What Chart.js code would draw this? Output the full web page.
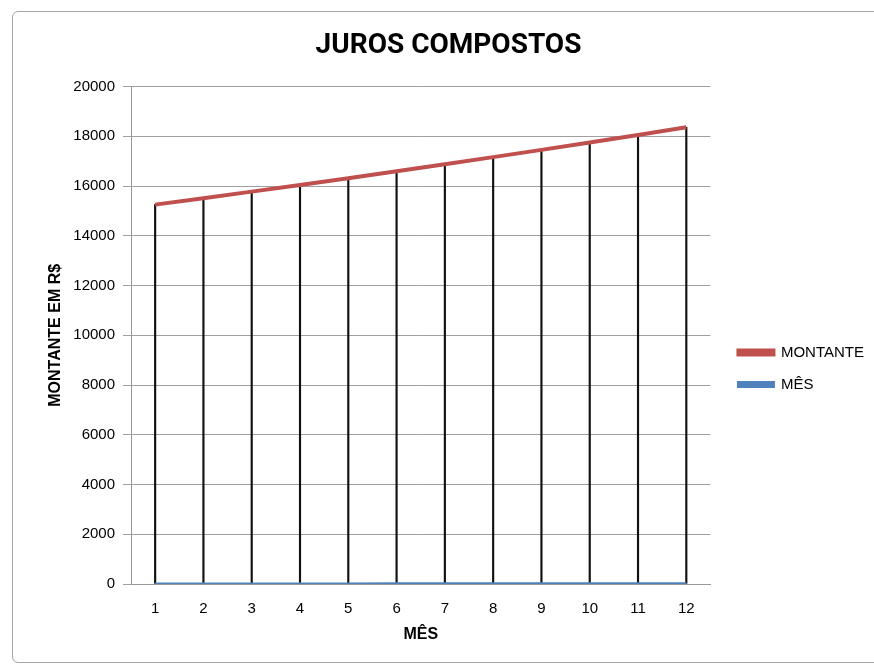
<!DOCTYPE html>
<html>
<head>
<meta charset="utf-8">
<script src="https://cdn.jsdelivr.net/npm/chart.js@4/dist/chart.umd.min.js"></script>
<style>
  html, body { margin: 0; padding: 0; background: #ffffff; overflow: hidden; }
  #frame {
    position: absolute; left: 12px; top: 11px; width: 880px; height: 650px;
    border: 1px solid #a6a6a6; border-radius: 6px; background: #ffffff;
  }
  #wrap { position: absolute; left: 0; top: 0; width: 874px; height: 666px; }
</style>
</head>
<body>
<div id="frame"></div>
<div id="wrap"><canvas id="chart1" width="874" height="666"></canvas></div>
<script>
// meses (eixo x)
var meses = ["1", "2", "3", "4", "5", "6", "7", "8", "9", "10", "11", "12"];

// montante em R$
var montante = [15255, 15514, 15777, 16045, 16318, 16595, 16877, 17164, 17456, 17753, 18055, 18362];

// série "MÊS" (valores 1..12, ficam colados no zero)
var mes = [1, 2, 3, 4, 5, 6, 7, 8, 9, 10, 11, 12];

var yTicks = [0, 2000, 4000, 6000, 8000, 10000, 12000, 14000, 16000, 18000, 20000];

var fonte = "'Liberation Sans', 'DejaVu Sans', sans-serif";
var fonteTitulo = "Roboto, 'Liberation Sans', sans-serif";

var chart = new Chart(document.getElementById("chart1"), {
    type: "line",
    data: {
        labels: meses,
        datasets: [
            {
                label: "MONTANTE",
                data: montante,
                borderColor: "#c0504d",
                backgroundColor: "#c0504d",
                borderWidth: 4,
                pointRadius: 0,
                tension: 0,
                order: 1
            },
            {
                label: "MÊS",
                data: mes,
                borderColor: "#4f81bd",
                backgroundColor: "#4f81bd",
                borderWidth: 3,
                pointRadius: 0,
                tension: 0,
                order: 2
            },
            {
                // linhas de projeção (drop lines)
                type: "bar",
                label: "drop",
                data: montante,
                backgroundColor: "#111111",
                barThickness: 1.5,
                order: 3
            }
        ]
    },
    options: {
        responsive: false,
        animation: false,
        layout: { padding: { left: 23, right: 0, top: 29, bottom: 22 } },
        plugins: {
            title: {
                display: true,
                text: "JUROS COMPOSTOS",
                color: "#000000",
                font: { family: fonteTitulo, size: 28, weight: "bold" },
                padding: { top: 0, bottom: 24 }
            },
            legend: {
                position: "right",
                fullSize: false,
                maxWidth: 200,
                title: { display: true, text: " ", font: { size: 12 }, padding: { top: 26, bottom: 26 } },
                labels: {
                    filter: function (item) { return item.text !== "drop"; },
                    color: "#000000",
                    font: { family: fonte, size: 15 },
                    boxWidth: 35,
                    boxHeight: 4,
                    padding: 17
                }
            },
            tooltip: { enabled: false }
        },
        scales: {
            x: {
                offset: true,
                afterFit: function (axis) { axis.height = 60; },
                grid: { display: false, drawTicks: false },
                border: { display: true, color: "#999999", width: 1 },
                ticks: { color: "#000000", font: { family: fonte, size: 15 }, padding: 16 },
                title: {
                    display: true,
                    text: "MÊS",
                    color: "#000000",
                    font: { family: fonte, size: 16, weight: "bold" },
                    padding: { top: 0, bottom: 0 }
                }
            },
            y: {
                min: 0,
                max: 20000,
                afterBuildTicks: function (axis) {
                    axis.ticks = yTicks.map(function (v) { return { value: v }; });
                },
                afterFit: function (axis) { axis.width = 108; },
                grid: { color: "#a0a0a0", lineWidth: 1, tickLength: 8 },
                border: { display: true, color: "#999999", width: 1 },
                ticks: {
                    color: "#000000",
                    font: { family: fonte, size: 15 },
                    padding: 8,
                    callback: function (v) { return String(v); }
                },
                title: {
                    display: true,
                    text: "MONTANTE EM R$",
                    color: "#000000",
                    font: { family: fonte, size: 16, weight: "bold" },
                    padding: { top: 23, bottom: 0 }
                }
            },
            // eixo vazio só para afastar a legenda da área do gráfico
            folga: {
                type: "linear",
                position: "right",
                display: true,
                afterFit: function (axis) { axis.width = 11; },
                grid: { display: false, drawTicks: false },
                border: { display: false },
                ticks: { display: false }
            }
        }
    }
});
</script>
</body>
</html>
